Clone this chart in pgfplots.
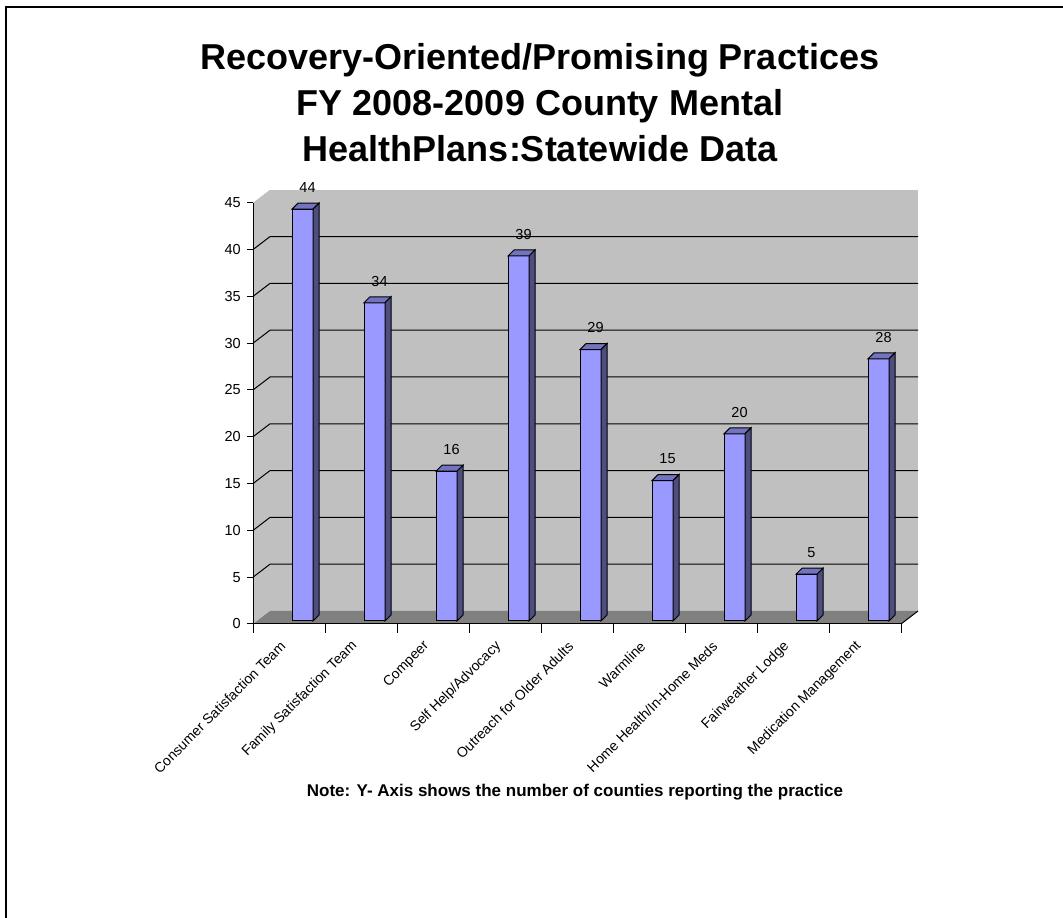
\documentclass[border=0pt]{standalone}
\usepackage{fontspec}
\setmainfont{Liberation Sans}
\usepackage{pgfplots}
\pgfplotsset{compat=1.18}
\usepackage{pgfplotstable}

\definecolor{barfront}{HTML}{9999FF}
\definecolor{bartop}{HTML}{7373BF}
\definecolor{barside}{HTML}{4D4D80}
\definecolor{wall}{HTML}{C0C0C0}
\definecolor{floorgray}{HTML}{808080}

% number of counties reporting each practice (categories at 0.5, 1.5, ...)
\pgfplotstableread{
idx count
0.5 44
1.5 34
2.5 16
3.5 39
4.5 29
5.5 15
6.5 20
7.5 5
8.5 28
}\practices

\newdimen\barh
\newdimen\barfb
\newdimen\barbb
% 3-D column drawn at the data point: front face, top and right side
\pgfdeclareplotmark{column3d}{%
  \pgfmathsetlength{\barh}{9.36*\colval}%
  \barh=1.00375\barh
  \barfb=3bp \advance\barfb by -\barh
  \barbb=9bp \advance\barbb by -\barh
  \pgfsetlinewidth{1bp}%
  \pgfsetstrokecolor{black}%
  \pgfpathrectanglecorners{\pgfqpoint{3bp}{3bp}}{\pgfqpoint{24bp}{\barfb}}%
  \pgfsetfillcolor{barfront}\pgfusepath{fill,stroke}%
  \pgfpathmoveto{\pgfqpoint{3bp}{3bp}}%
  \pgfpathlineto{\pgfqpoint{24bp}{3bp}}%
  \pgfpathlineto{\pgfqpoint{30bp}{9bp}}%
  \pgfpathlineto{\pgfqpoint{9bp}{9bp}}%
  \pgfpathclose
  \pgfsetfillcolor{bartop}\pgfusepath{fill,stroke}%
  \pgfpathmoveto{\pgfqpoint{24bp}{3bp}}%
  \pgfpathlineto{\pgfqpoint{30bp}{9bp}}%
  \pgfpathlineto{\pgfqpoint{30bp}{\barbb}}%
  \pgfpathlineto{\pgfqpoint{24bp}{\barfb}}%
  \pgfpathclose
  \pgfsetfillcolor{barside}\pgfusepath{fill,stroke}%
}

\begin{document}
\begin{tikzpicture}
\path[use as bounding box] (0,0) rectangle (1063bp,918bp);
\draw[line width=1.5bp] (6bp,0) -- (6bp,911bp) -- (1063bp,911bp);

\node[anchor=base,font=\bfseries\fontsize{36bp}{43bp}\selectfont] at (540bp,848bp) {Recovery-Oriented/Promising Practices};
\node[anchor=base,font=\bfseries\fontsize{36bp}{43bp}\selectfont] at (540bp,802bp) {FY 2008-2009 County Mental};
\node[anchor=base,font=\bfseries\fontsize{36bp}{43bp}\selectfont] at (540bp,756bp) {HealthPlans:Statewide Data};

\begin{axis}[
  at={(253bp,294bp)}, anchor=south west,
  x=72bp, y=9.36bp,
  xmin=0, xmax=9, ymin=0, ymax=45,
  clip=false, axis on top,
  axis lines*=left,
  axis line style={line width=1bp, black},
  tick align=outside,
  major tick length=6bp, minor tick length=9bp,
  tick style={line width=1bp, black},
  ytick={0,5,...,45},
  xtick={0.5,1.5,...,8.5},
  minor xtick={0,1,...,9},
  every major x tick/.append style={draw=none},
  xticklabels={Consumer Satisfaction Team, Family Satisfaction Team, Compeer,
    Self Help/Advocacy, Outreach for Older Adults, Warmline,
    Home Health/In-Home Meds, Fairweather Lodge, Medication Management},
  xticklabel style={xshift=-6bp, yshift=-14bp, rotate=45, anchor=east, inner sep=0pt,
    font=\fontsize{14bp}{16bp}\selectfont},
  yticklabel style={anchor=east, inner sep=0pt, xshift=-6bp,
    font=\fontsize{14.5bp}{17bp}\selectfont},
  /pgf/number format/assume math mode=true,
]
% walls and floor of the 3-D plot area
\fill[wall] ([xshift=17bp,yshift=13bp]axis cs:0,0) rectangle ([xshift=17bp,yshift=13bp]axis cs:9,45);
\fill[wall] (axis cs:0,0) -- (axis cs:0,45) -- ([xshift=17bp,yshift=13bp]axis cs:0,45) -- ([xshift=17bp,yshift=13bp]axis cs:0,0) -- cycle;
\fill[floorgray] (axis cs:0,0) -- (axis cs:9,0) -- ([xshift=17bp,yshift=13bp]axis cs:9,0) -- ([xshift=17bp,yshift=13bp]axis cs:0,0) -- cycle;
\draw[line width=1bp] (axis cs:9,0) -- ([xshift=17bp,yshift=13bp]axis cs:9,0);
\draw[line width=1bp] (axis cs:0,5) -- ([xshift=17bp,yshift=13bp]axis cs:0,5) -- ([xshift=17bp,yshift=13bp]axis cs:9,5);
\draw[line width=1bp] (axis cs:0,10) -- ([xshift=17bp,yshift=13bp]axis cs:0,10) -- ([xshift=17bp,yshift=13bp]axis cs:9,10);
\draw[line width=1bp] (axis cs:0,15) -- ([xshift=17bp,yshift=13bp]axis cs:0,15) -- ([xshift=17bp,yshift=13bp]axis cs:9,15);
\draw[line width=1bp] (axis cs:0,20) -- ([xshift=17bp,yshift=13bp]axis cs:0,20) -- ([xshift=17bp,yshift=13bp]axis cs:9,20);
\draw[line width=1bp] (axis cs:0,25) -- ([xshift=17bp,yshift=13bp]axis cs:0,25) -- ([xshift=17bp,yshift=13bp]axis cs:9,25);
\draw[line width=1bp] (axis cs:0,30) -- ([xshift=17bp,yshift=13bp]axis cs:0,30) -- ([xshift=17bp,yshift=13bp]axis cs:9,30);
\draw[line width=1bp] (axis cs:0,35) -- ([xshift=17bp,yshift=13bp]axis cs:0,35) -- ([xshift=17bp,yshift=13bp]axis cs:9,35);
\draw[line width=1bp] (axis cs:0,40) -- ([xshift=17bp,yshift=13bp]axis cs:0,40) -- ([xshift=17bp,yshift=13bp]axis cs:9,40);
\addplot[only marks, mark=column3d,
  visualization depends on={\thisrow{count} \as \colval},
  nodes near coords,
  every node near coord/.append style={text=black, inner sep=0pt,
    xshift=18.5bp, yshift=19bp, font=\fontsize{14.5bp}{17bp}\selectfont},
] table[x=idx, y=count] {\practices};
\end{axis}

\node[anchor=base,font=\bfseries\fontsize{17bp}{20bp}\selectfont] at (575bp,121bp) {Note: Y- Axis shows the number of counties reporting the practice};
\end{tikzpicture}
\end{document}
